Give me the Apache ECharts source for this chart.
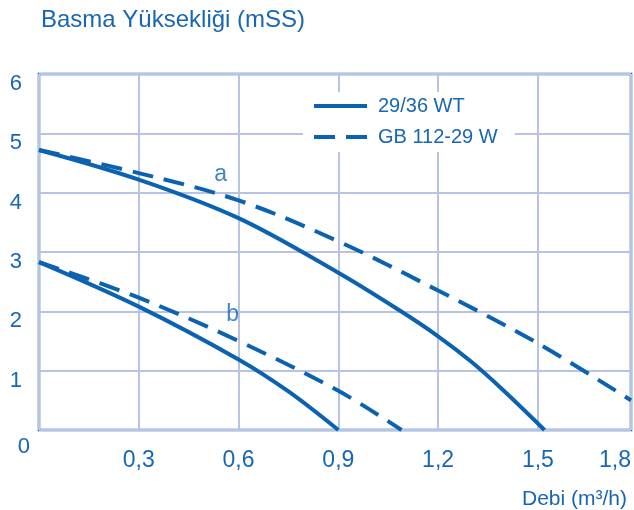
<!DOCTYPE html>
<html>
<head>
<meta charset="utf-8">
<script src="https://cdn.jsdelivr.net/npm/echarts@6/dist/echarts.min.js"></script>
<style>
html,body{margin:0;padding:0;background:#fff;}
#c{width:634px;height:510px;}
</style>
</head>
<body>
<div id="c"></div>
<script>
// Data
const seriesNames = ['29/36 WT', 'GB 112-29 W'];
const yTitle = 'Basma Yüksekliği (mSS)';
const xTitle = 'Debi (m³/h)';

const solidA_x = [0, 0.3, 0.6, 0.9, 1.08, 1.2, 1.3, 1.4, 1.52];
const solidA_y = [4.72, 4.22, 3.57, 2.65, 2.03, 1.58, 1.15, 0.65, 0];
const dashA_x = [0, 0.3, 0.6, 0.9, 1.2, 1.5, 1.78];
const dashA_y = [4.72, 4.33, 3.87, 3.18, 2.35, 1.46, 0.5];
const solidB_x = [0, 0.3, 0.6, 0.75, 0.9];
const solidB_y = [2.83, 2.08, 1.19, 0.65, 0];
const dashB_x = [0, 0.3, 0.6, 0.9, 1.09];
const dashB_y = [2.83, 2.23, 1.5, 0.66, 0];

const curveLabels = ['a', 'b'];
const curveLabelX = [0.546, 0.582];
const curveLabelY = [4.3, 1.95];

const xMin = 0, xMax = 1.78, xStep = 0.3;
const yMin = 0, yMax = 6, yStep = 1;

const zip = (xs, ys) => xs.map((x, i) => [x, ys[i]]);

const BLUE = '#0b62b0';
const TEXT = '#1767b2';
const GRID = '#b8c3e3';
const FONT = 'Liberation Sans';

const chart = echarts.init(document.getElementById('c'), null, {renderer: 'canvas'});

function lineSeries(name, data, dashed) {
  return {
    name: name,
    type: 'line',
    data: data,
    smooth: 0.35,
    symbol: 'none',
    lineStyle: {color: BLUE, width: 4, type: dashed ? [21, 11] : 'solid', cap: 'butt'},
    itemStyle: {color: BLUE},
    z: 3,
    silent: true
  };
}

chart.setOption({
  animation: false,
  backgroundColor: '#fff',
  textStyle: {fontFamily: FONT},
  title: [
    {text: yTitle, left: 36, top: 3,
     textStyle: {fontFamily: FONT, fontSize: 24, fontWeight: 'normal', color: TEXT}},
    {text: xTitle, right: 2, top: 484,
     textStyle: {fontFamily: FONT, fontSize: 21, fontWeight: 'normal', color: TEXT}}
  ],
  grid: {
    left: 39, right: 2, top: 74, bottom: 80,
    show: true, borderColor: '#1565b0', borderWidth: 2.5, backgroundColor: 'transparent'
  },
  legend: {
    data: [
      {name: seriesNames[0], icon: 'path://M0,0H53V4H0Z'},
      {name: seriesNames[1], icon: 'path://M0,0H21V4H0Z M32,0H53V4H32Z'}
    ],
    orient: 'vertical',
    left: 303, top: 92,
    padding: [4, 17, 5, 11],
    itemWidth: 53, itemHeight: 20, itemGap: 11,
    symbolKeepAspect: true,
    backgroundColor: '#fff',
    selectedMode: false,
    itemStyle: {color: BLUE, borderWidth: 0},
    textStyle: {fontFamily: FONT, fontSize: 20, color: TEXT, padding: [0, 0, 0, 6]}
  },
  xAxis: {
    type: 'value', min: xMin, max: xMax, interval: xStep,
    axisLine: {show: false}, axisTick: {show: false},
    splitLine: {show: true, lineStyle: {color: GRID, width: 2}},
    axisLabel: {
      showMinLabel: false, margin: 19, alignMaxLabel: 'right',
      fontFamily: FONT, fontSize: 23, color: TEXT,
      formatter: v => v.toFixed(1).replace('.', ',')
    }
  },
  yAxis: {
    type: 'value', min: yMin, max: yMax, interval: yStep,
    axisLine: {show: false}, axisTick: {show: false},
    splitLine: {show: true, lineStyle: {color: GRID, width: 2}},
    axisLabel: {
      margin: 9, fontFamily: FONT, fontSize: 22, color: TEXT, verticalAlign: 'middle',
      formatter: v => v === 0 ? '{z|0}' : '{n|' + v + '}',
      rich: {
        n: {fontFamily: FONT, fontSize: 22, color: TEXT, padding: [20, 8, 0, 0]},
        z: {fontFamily: FONT, fontSize: 22, color: TEXT, padding: [34, 0, 0, 0]}
      }
    }
  },
  series: [
    lineSeries(seriesNames[0], zip(solidA_x, solidA_y), false),
    lineSeries(seriesNames[1], zip(dashA_x, dashA_y), true),
    lineSeries(seriesNames[0], zip(solidB_x, solidB_y), false),
    lineSeries(seriesNames[1], zip(dashB_x, dashB_y), true),
    {
      name: 'labels', type: 'scatter', silent: true, symbolSize: 0,
      data: curveLabels.map((t, i) => [curveLabelX[i], curveLabelY[i], t]),
      label: {show: true, position: 'inside', formatter: p => p.value[2],
        fontFamily: FONT, fontSize: 23, color: TEXT},
      z: 4
    }
  ]
});
</script>
</body>
</html>
